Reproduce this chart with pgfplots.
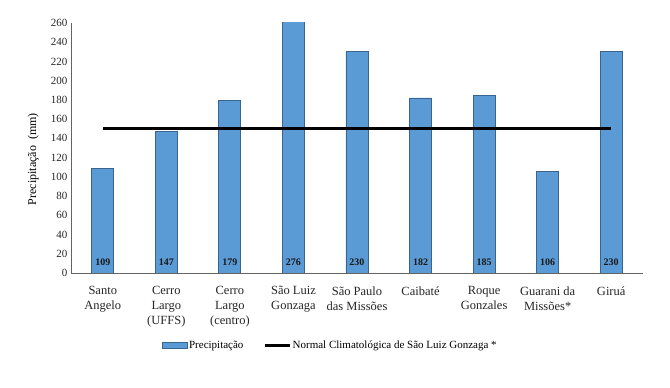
\documentclass[border=0pt]{standalone}
\usepackage{pgfplots}
\usepackage{pgfplotstable}
\pgfplotsset{compat=1.18}
\usepackage{fontspec}
\setmainfont{Liberation Serif}
\definecolor{barblue}{RGB}{91,155,213}
\definecolor{baredge}{RGB}{55,100,145}
\definecolor{axgray}{RGB}{100,100,100}
\pgfplotstableread{
x v
0 109
1 147
2 179
3 276
4 230
5 182
6 185
7 106
8 230
}\data
\pgfplotstableread{
x n
0 150
1 150
2 150
3 150
4 150
5 150
6 150
7 150
8 150
}\normal
\begin{document}
\begin{tikzpicture}
\path[use as bounding box] (-71pt,-115pt) rectangle (599pt,273pt);
\begin{axis}[
  at={(0pt,0pt)}, anchor=south west,
  scale only axis, width=572pt, height=250pt,
  xmin=-0.5, xmax=8.5, ymin=0, ymax=260,
  enlargelimits=false,
  ytick={0,20,...,260},
  xtick={0,...,8},
  xticklabels={Santo\\Angelo, Cerro\\Largo\\(UFFS), Cerro\\Largo\\(centro), São Luiz\\Gonzaga, São Paulo\\das Missões, Caibaté, Roque\\Gonzales, Guarani da\\Missões*, Giruá},
  axis x line*=bottom, axis y line*=left,
  axis line style={draw=axgray, line width=0.8pt, -},
  major tick length=0pt,
  /pgf/number format/assume math mode=true,
  yticklabel style={font=\fontsize{11}{13}\selectfont, text=black!85},
  xticklabel style={align=center, font=\fontsize{12.5}{15}\selectfont, text=black!85, yshift=-10pt},
  every axis y label/.style={at={(axis description cs:-0.066,0.455)}, rotate=90, anchor=center},
  ylabel={Precipitação\ \ (mm)},
  label style={font=\fontsize{12}{14}\selectfont},
  legend style={draw=none, at={(0.453,-0.29)}, anchor=center, legend columns=2,
    font=\fontsize{11}{13}\selectfont, /tikz/every even column/.append style={column sep=18pt},
    /tikz/every odd column/.append style={column sep=0pt}},
  legend cell align=left,
]
\addplot[ybar, bar width=22pt, fill=barblue, draw=baredge, line width=0.8pt,
  legend image code/.code={\draw[fill=barblue,draw=baredge,line width=0.6pt] (0pt,-3pt) rectangle (25pt,3pt);}]
  table[x=x, y=v] {\data};
\addlegendentry{Precipitação}
\addplot[black, line width=2.6pt, mark=none,
  legend image code/.code={\draw[black,line width=2.2pt] (0pt,0pt)--(25pt,0pt);}]
  table[x=x, y=n] {\normal};
\addlegendentry{Normal Climatológica de São Luiz Gonzaga *}
\addplot[draw=none, mark=none, forget plot, nodes near coords, point meta=explicit,
  nodes near coords style={font=\fontsize{10}{12}\selectfont\bfseries, anchor=center, text=black!90}]
  table[x=x, y expr=11, meta=v] {\data};
\end{axis}
\end{tikzpicture}
\end{document}
